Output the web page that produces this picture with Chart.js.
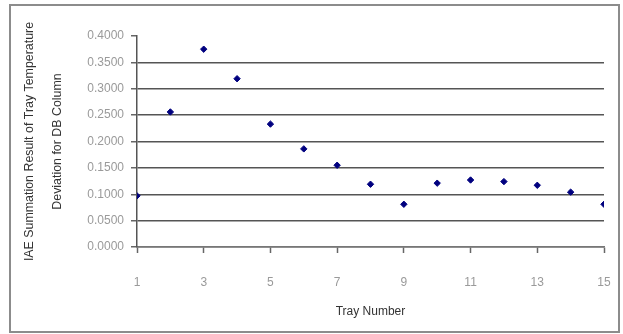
<!DOCTYPE html>
<html>
<head>
<meta charset="utf-8">
<script src="https://cdn.jsdelivr.net/npm/chart.js@4"></script>
<style>
  body { margin: 0; background: #fff; }
  #wrap { position: relative; width: 623px; height: 334px; }
</style>
</head>
<body>
<div id="wrap"><canvas id="iae" width="623" height="334"></canvas></div>
<script>
  const trays = [1, 2, 3, 4, 5, 6, 7, 8, 9, 10, 11, 12, 13, 14, 15];
  const iae = [0.097, 0.256, 0.375, 0.319, 0.233, 0.186, 0.155, 0.119, 0.081, 0.121, 0.127, 0.124, 0.117, 0.104, 0.081];
  const yTitle = ['IAE Summation Result of Tray Temperature', 'Deviation for DB Column'];
  const xTitle = 'Tray Number';

  const points = trays.map((t, i) => ({ x: t, y: iae[i] }));

  // outer frame round the whole chart
  const frame = {
    id: 'frame',
    beforeDraw(chart) {
      const c = chart.ctx;
      c.save();
      c.strokeStyle = '#8c8c8c';
      c.lineWidth = 2;
      c.strokeRect(10, 5, 609, 327);
      c.restore();
    }
  };

  const config = {
    type: 'scatter',
    data: {
      datasets: [{
        label: 'IAE',
        data: points,
        backgroundColor: '#00007f',
        borderColor: '#00007f',
        pointStyle: 'rectRot',
        pointRadius: 3.2,
        pointHoverRadius: 3.2
      }]
    },
    options: {
      responsive: false,
      animation: false,
      layout: { padding: { left: 16, top: 36, right: 19, bottom: 10 } },
      plugins: { legend: { display: false }, tooltip: { enabled: false } },
      scales: {
        x: {
          type: 'linear',
          min: 1,
          max: 15,
          afterFit: (s) => { s.height = 77; s.paddingLeft = 0; s.paddingRight = 0; },
          ticks: {
            stepSize: 2,
            padding: 22,
            color: '#9a9a9a',
            font: { family: 'Liberation Sans', size: 12 }
          },
          grid: {
            drawOnChartArea: false,
            tickLength: 6,
            tickColor: '#666',
            tickWidth: 1.5
          },
          border: { color: '#777', width: 1.5 },
          title: {
            display: true,
            text: xTitle,
            color: '#333',
            font: { family: 'Liberation Sans', size: 12 },
            padding: { top: 0, bottom: 5 }
          }
        },
        y: {
          min: 0,
          max: 0.4,
          afterFit: (s) => { s.width = 121; },
          ticks: {
            stepSize: 0.05,
            padding: 7,
            color: '#9a9a9a',
            font: { family: 'Liberation Sans', size: 12 },
            callback: (v) => v.toFixed(4)
          },
          grid: {
            color: (ctx) => (ctx.tick && ctx.tick.value >= 0.399 ? 'rgba(0,0,0,0)' : '#555'),
            lineWidth: 1.5,
            tickLength: 6,
            tickColor: '#666',
            tickWidth: 1.5
          },
          border: { color: '#555', width: 1.5 },
          title: {
            display: true,
            text: yTitle,
            color: '#333',
            font: { family: 'Liberation Sans', size: 12.4, lineHeight: 2.25 },
            padding: { top: 0, bottom: 0 }
          }
        }
      }
    },
    plugins: [frame]
  };

  const chart = new Chart(document.getElementById('iae'), config);
</script>
</body>
</html>
